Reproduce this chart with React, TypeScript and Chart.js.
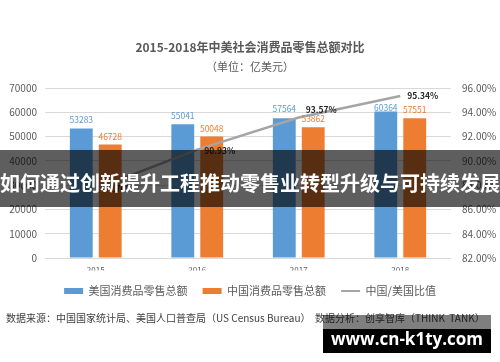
import React, { useEffect, useRef } from "react";
import { Chart, registerables } from "chart.js";

Chart.register(...registerables);

const FF = '"Microsoft YaHei", "Noto Sans CJK SC", sans-serif';

const titleText = "2015-2018年中美社会消费品零售总额对比";
const subtitleText = "（单位：亿美元）";
const categories = ["2015", "2016", "2017", "2018"];
const usRetail = [53283, 55041, 57564, 60364];
const chinaRetail = [46728, 50048, 53862, 57551];
const ratioPct = [87.7, 90.93, 93.57, 95.34];
const seriesNames = ["美国消费品零售总额", "中国消费品零售总额", "中国/美国比值"];
const sourceNote = "数据来源：中国国家统计局、美国人口普查局（US Census Bureau）  数据分析：创享智库（THINK  TANK）";
const bannerText = "如何通过创新提升工程推动零售业转型升级与可持续发展";
const watermarkText = "www.cn-k1ty.com";

const BLUE = "#5b9bd5";
const ORANGE = "#ed7d31";
const GRAY = "#a5a5a5";
const TXT = "#595959";

const lineLabelDy = [0, 1, -8, 0];
const barLabelGap = [
  [9, 9, 9, 4],
  [8, 8, 8, 8],
];

const valueLabels = {
  id: "valueLabels",
  afterDatasetsDraw(chart: any) {
    const ctx = chart.ctx;
    chart.data.datasets.forEach((ds: any, di: number) => {
      const meta = chart.getDatasetMeta(di);
      meta.data.forEach((el: any, i: number) => {
        const v = ds.data[i];
        ctx.save();
        if (ds.type === "line") {
          ctx.font = `bold 8.5px ${FF}`;
          ctx.fillStyle = "#262626";
          ctx.textAlign = "left";
          ctx.textBaseline = "middle";
          ctx.fillText(v.toFixed(2) + "%", el.x + 7, el.y + lineLabelDy[i]);
        } else {
          ctx.font = `8.5px ${FF}`;
          ctx.fillStyle = ds.backgroundColor;
          ctx.textAlign = "center";
          ctx.textBaseline = "middle";
          ctx.fillText(String(v), el.x, el.y - barLabelGap[di][i]);
        }
        ctx.restore();
      });
    });
  },
};

export default function App() {
  const ref = useRef<HTMLCanvasElement | null>(null);

  useEffect(() => {
    if (!ref.current) return;
    const chart = new Chart(ref.current, {
      type: "bar",
      data: {
        labels: categories,
        datasets: [
          {
            type: "bar",
            label: seriesNames[0],
            data: usRetail,
            backgroundColor: BLUE,
            yAxisID: "y",
            order: 1,
            categoryPercentage: 0.57,
            barPercentage: 0.79,
          },
          {
            type: "bar",
            label: seriesNames[1],
            data: chinaRetail,
            backgroundColor: ORANGE,
            yAxisID: "y",
            order: 1,
            categoryPercentage: 0.57,
            barPercentage: 0.79,
          },
          {
            type: "line",
            label: seriesNames[2],
            data: ratioPct,
            borderColor: GRAY,
            backgroundColor: GRAY,
            borderWidth: 2.5,
            pointRadius: 0,
            tension: 0,
            yAxisID: "y1",
            order: 0,
          },
        ] as any,
      },
      options: {
        animation: false,
        responsive: false,
        devicePixelRatio: 1,
        layout: { padding: { top: 0, left: 0, right: 0, bottom: 55.5 } },
        plugins: {
          title: {
            display: true,
            text: titleText,
            color: TXT,
            font: { family: FF, size: 12, weight: "bold" },
            padding: { top: 40, bottom: 0 },
          },
          subtitle: {
            display: true,
            text: subtitleText,
            color: TXT,
            font: { family: FF, size: 11 },
            padding: { top: 6, bottom: 14.4 },
          },
          legend: {
            position: "bottom",
            labels: {
              usePointStyle: true,
              pointStyleWidth: 19,
              boxHeight: 6,
              padding: 15,
              color: TXT,
              font: { family: FF, size: 11 },
              generateLabels: (c: any) =>
                c.data.datasets.map((ds: any, i: number) => ({
                  text: ds.label,
                  fillStyle: ds.type === "line" ? "transparent" : ds.backgroundColor,
                  strokeStyle: ds.type === "line" ? ds.borderColor : ds.backgroundColor,
                  lineWidth: ds.type === "line" ? 2 : 0,
                  pointStyle: ds.type === "line" ? "line" : "rect",
                  hidden: false,
                  datasetIndex: i,
                  fontColor: TXT,
                })),
            },
          },
          tooltip: { enabled: false },
        },
        scales: {
          x: {
            grid: { display: false, drawTicks: false },
            border: { display: false },
            ticks: { color: TXT, font: { family: FF, size: 8 }, padding: 7 },
            afterFit: (s: any) => {
              s.height = 12.5;
            },
          },
          y: {
            position: "left",
            min: 0,
            max: 70000,
            ticks: {
              stepSize: 10000,
              color: TXT,
              font: { family: FF, size: 10 },
              padding: 8,
              callback: (v: any) => String(v),
            },
            grid: { color: "#d9d9d9", drawTicks: false },
            border: { display: false },
            afterFit: (s: any) => {
              s.width = 45;
            },
          },
          y1: {
            position: "right",
            min: 82,
            max: 96,
            ticks: {
              stepSize: 2,
              color: TXT,
              font: { family: FF, size: 10 },
              padding: 11,
              callback: (v: any) => Number(v).toFixed(2) + "%",
            },
            grid: { display: false, drawTicks: false },
            border: { display: false },
            afterFit: (s: any) => {
              s.width = 49;
            },
          },
        },
      } as any,
      plugins: [valueLabels],
    });
    return () => chart.destroy();
  }, []);

  return (
    <div style={{ position: "fixed", left: 0, top: 0, width: 500, height: 362, background: "#fff", overflow: "hidden" }}>
      <canvas ref={ref} width={500} height={362} style={{ display: "block", width: 500, height: 362 }} />
      <div
        style={{
          position: "absolute",
          left: 6,
          top: 311,
          fontFamily: FF,
          fontSize: 10,
          lineHeight: "14px",
          color: "#404040",
          whiteSpace: "pre",
        }}
      >
        {sourceNote}
      </div>
      <div style={{ position: "absolute", left: 0, top: 150, width: 500, height: 57, background: "rgba(0,0,0,0.63)" }} />
      <div
        style={{
          position: "absolute",
          left: -20,
          top: 169,
          width: 540,
          textAlign: "center",
          fontFamily: FF,
          fontWeight: "bold",
          fontSize: 20,
          lineHeight: "28px",
          color: "#fff",
          whiteSpace: "nowrap",
        }}
      >
        {bannerText}
      </div>
      <div style={{ position: "absolute", left: 323, top: 315, width: 168, height: 14, background: "rgba(0,0,0,0.5)" }} />
      <div
        style={{
          position: "absolute",
          left: 323,
          top: 329,
          width: 168,
          height: 24,
          background: "#000",
          color: "#fff",
          fontFamily: '"Open Sans", sans-serif',
          fontWeight: "bold",
          fontSize: 17,
          lineHeight: "20px",
          textAlign: "center",
          whiteSpace: "nowrap",
        }}
      >
        {watermarkText}
      </div>
    </div>
  );
}
